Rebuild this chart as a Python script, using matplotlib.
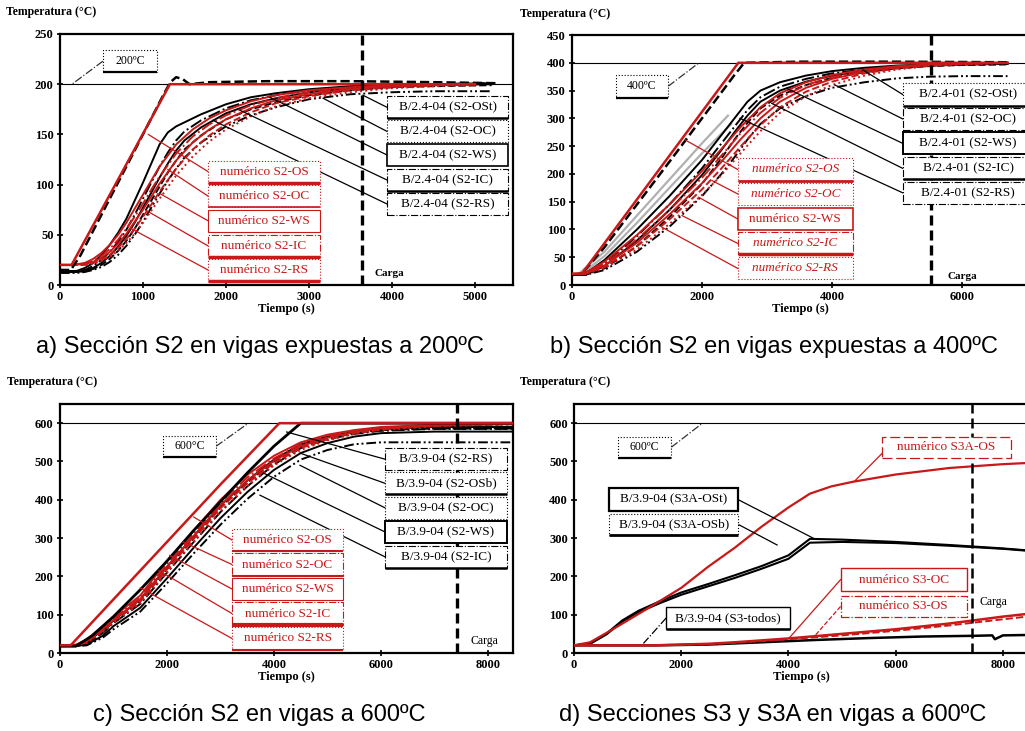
import matplotlib
matplotlib.use("Agg")
import matplotlib.pyplot as plt
from matplotlib.patches import Rectangle

plt.rcParams['font.family'] = ['Liberation Serif', 'DejaVu Serif']

RED = '#c81818'
DDOT = (0, (5, 1.5, 1, 1.5, 1, 1.5))

# ---------------- a) 200 C ----------------
a_target_t = [0, 140, 1325, 5000]
a_target_T = [20, 20, 200, 200]
a_furn_t = [0, 130, 250, 500, 750, 1000, 1250, 1330, 1400, 1480, 1560, 1800, 2500, 3500, 4500, 5250]
a_furn_T = [15, 15, 30, 70, 110, 150, 190, 202, 207, 205, 200, 202, 203, 203, 202, 201]
a_exp_t = [0, 200, 300, 400, 500, 600, 700, 800, 900, 1000, 1100, 1200, 1300, 1400, 1500, 1700, 2000, 2300, 2600, 3000, 3500, 4000, 4500, 5200]
a_exp_T = [
    [14, 14, 17, 22, 30, 40, 52, 66, 84, 102, 121, 140, 152, 158, 162, 170, 180, 187, 191, 195, 198, 199, 200, 201],
    [14, 14, 15, 19, 25, 33, 43, 55, 70, 86, 102, 118, 132, 144, 153, 164, 176, 184, 189, 194, 197, 199, 200, 201],
    [13, 13, 14, 17, 22, 29, 38, 49, 62, 77, 92, 107, 121, 134, 144, 157, 171, 180, 186, 192, 196, 198, 199, 200],
    [13, 13, 14, 16, 20, 26, 34, 44, 56, 70, 84, 98, 112, 124, 135, 149, 165, 175, 182, 189, 194, 197, 198, 199],
    [12, 12, 13, 15, 18, 23, 30, 39, 50, 63, 77, 91, 104, 116, 127, 142, 158, 169, 177, 185, 190, 192, 193, 193],
]
a_num_t = [0, 150, 300, 400, 500, 600, 700, 800, 900, 1000, 1100, 1200, 1400, 1600, 1800, 2000, 2300, 2600, 3000, 3500, 4000, 4500, 5000]
a_num_T = [
    [20, 20, 22, 26, 32, 40, 50, 62, 76, 90, 104, 118, 140, 155, 166, 174, 183, 189, 194, 197, 199, 200, 200],
    [20, 20, 21, 24, 29, 36, 45, 56, 68, 81, 95, 108, 131, 148, 160, 169, 179, 186, 192, 196, 198, 199, 200],
    [20, 20, 21, 23, 27, 33, 41, 51, 63, 75, 88, 101, 124, 142, 155, 165, 176, 184, 190, 195, 198, 199, 200],
    [20, 20, 20, 22, 25, 30, 37, 46, 56, 68, 80, 93, 116, 135, 149, 160, 172, 181, 188, 194, 197, 199, 200],
    [20, 20, 20, 21, 24, 28, 34, 42, 51, 62, 74, 86, 109, 128, 143, 155, 168, 178, 186, 192, 196, 198, 199],
]
a_exp_labels = ['B/2.4-04 (S2-OSt)', 'B/2.4-04 (S2-OC)', 'B/2.4-04 (S2-WS)', 'B/2.4-04 (S2-IC)', 'B/2.4-04 (S2-RS)']
a_num_labels = ['numérico S2-OS', 'numérico S2-OC', 'numérico S2-WS', 'numérico S2-IC', 'numérico S2-RS']

# ---------------- b) 400 C ----------------
b_target_t = [0, 150, 2560, 6700]
b_target_T = [20, 20, 400, 400]
b_furn_t = [0, 150, 500, 1000, 1500, 2000, 2500, 2650, 3500, 5000, 6700]
b_furn_T = [18, 20, 68, 145, 222, 300, 378, 400, 402, 402, 401]
b_grey_t = [[100, 500, 1000, 1500, 2000, 2400], [150, 500, 1000, 1500, 2000, 2450]]
b_grey_T = [[20, 60, 125, 190, 255, 305], [20, 52, 112, 175, 237, 290]]
b_exp_t = [0, 200, 500, 1000, 1500, 2000, 2300, 2500, 2700, 2900, 3200, 3600, 4000, 4500, 5000, 5500, 6000, 6700]
b_exp_T = [
    [18, 20, 45, 100, 160, 225, 270, 300, 330, 350, 365, 377, 385, 391, 395, 397, 398, 398],
    [18, 19, 38, 88, 145, 210, 255, 285, 315, 338, 357, 371, 381, 388, 393, 396, 397, 398],
    [18, 18, 34, 80, 135, 198, 243, 275, 305, 330, 350, 366, 377, 386, 392, 395, 397, 398],
    [18, 18, 30, 70, 122, 182, 228, 262, 292, 318, 341, 360, 373, 383, 390, 394, 396, 397],
    [18, 18, 27, 60, 105, 160, 200, 230, 262, 290, 318, 340, 355, 365, 372, 375, 376, 376],
]
b_num_t = [0, 200, 500, 1000, 1500, 2000, 2300, 2600, 2900, 3200, 3600, 4000, 4500, 5000, 5500, 6000, 6700]
b_num_T = [
    [20, 22, 42, 90, 145, 205, 245, 285, 320, 345, 365, 378, 388, 394, 397, 399, 400],
    [20, 21, 38, 82, 135, 193, 233, 274, 310, 337, 360, 374, 386, 393, 397, 399, 400],
    [20, 20, 35, 76, 127, 183, 222, 263, 300, 330, 355, 371, 384, 392, 396, 398, 400],
    [20, 20, 32, 70, 118, 172, 210, 250, 288, 320, 348, 366, 381, 390, 395, 398, 400],
    [20, 20, 30, 64, 110, 162, 198, 238, 277, 310, 340, 360, 377, 388, 394, 397, 399],
]
b_exp_labels = ['B/2.4-01 (S2-OSt)', 'B/2.4-01 (S2-OC)', 'B/2.4-01 (S2-WS)', 'B/2.4-01 (S2-IC)', 'B/2.4-01 (S2-RS)']

# ---------------- c) 600 C, S2 ----------------
c_target_t = [0, 200, 1000, 2000, 3000, 4100, 8500]
c_target_T = [20, 20, 140, 290, 440, 600, 600]
c_furn_t = [0, 300, 600, 1000, 1500, 2000, 2500, 3000, 3500, 4000, 4500, 8500]
c_furn_T = [18, 18, 45, 95, 165, 240, 320, 395, 470, 540, 600, 600]
c_t = [0, 300, 500, 800, 1000, 1500, 2000, 2500, 3000, 3500, 4000, 4500, 5000, 5500, 6000, 7000, 8500]
c_exp_T = [
    [18, 18, 28, 60, 85, 140, 225, 305, 385, 450, 505, 545, 565, 578, 585, 590, 590],
    [18, 18, 25, 52, 78, 128, 210, 290, 368, 435, 492, 535, 558, 572, 580, 585, 585],
    [18, 18, 22, 45, 70, 118, 195, 275, 352, 420, 478, 522, 548, 565, 574, 578, 578],
    [18, 18, 24, 55, 82, 135, 220, 300, 380, 445, 500, 540, 562, 575, 582, 586, 586],
    [18, 18, 20, 40, 62, 108, 182, 260, 335, 402, 460, 505, 530, 545, 550, 550, 550],
]
c_num_T = [
    [20, 22, 35, 70, 95, 150, 240, 320, 400, 465, 515, 550, 570, 582, 590, 596, 598],
    [20, 21, 33, 66, 90, 145, 232, 312, 392, 458, 508, 545, 566, 580, 588, 595, 598],
    [20, 20, 30, 62, 86, 140, 225, 305, 385, 450, 502, 540, 562, 577, 586, 594, 598],
    [20, 20, 28, 58, 82, 135, 218, 298, 378, 443, 496, 535, 558, 574, 584, 593, 597],
    [20, 20, 26, 55, 78, 130, 210, 290, 370, 436, 490, 530, 555, 572, 582, 592, 597],
]
c_exp_labels = ['B/3.9-04 (S2-RS)', 'B/3.9-04 (S2-OSb)', 'B/3.9-04 (S2-OC)', 'B/3.9-04 (S2-WS)', 'B/3.9-04 (S2-IC)']

# ---------------- d) 600 C, S3 / S3A ----------------
d_s3a_num_t = [0, 300, 700, 1300, 2000, 2500, 3000, 3500, 4000, 4400, 4800, 5200, 6000, 7000, 8000, 8450]
d_s3a_num_T = [20, 28, 60, 110, 170, 225, 275, 330, 380, 416, 435, 447, 466, 483, 493, 496]
d_s3a_exp_t = [0, 300, 600, 900, 1200, 1600, 2000, 2500, 3000, 3500, 4000, 4400, 5000, 6000, 7000, 8000, 8450]
d_s3a_exp_T = [
    [20, 25, 50, 85, 110, 135, 158, 180, 203, 227, 255, 298, 296, 290, 282, 273, 268],
    [20, 24, 48, 82, 106, 130, 152, 174, 196, 220, 246, 288, 290, 287, 280, 272, 267],
]
d_s3_num_t = [0, 1500, 2500, 3000, 3500, 4000, 5000, 6000, 7000, 7500, 8000, 8450]
d_s3_num_T = [
    [20, 20, 24, 28, 33, 38, 50, 62, 77, 86, 95, 102],
    [20, 20, 23, 27, 31, 36, 46, 58, 72, 80, 88, 95],
]
d_s3_exp_t = [0, 1500, 2500, 3500, 4500, 5500, 6500, 7500, 7800, 7850, 8000, 8450]
d_s3_exp_T = [20, 20, 22, 28, 34, 39, 43, 45, 46, 36, 46, 47]

carga = {'a': 3640, 'b': 5523, 'c': 7420, 'd': 7420}

# ---------------- helpers ----------------
EXP_STYLES = ['-', '-.', '-', '--', DDOT]
NUM_STYLES = ['-', '-.', '-', '--', ':']


def frame(ax, xmax, ymax, xt, yt):
    ax.set_xlim(0, xmax)
    ax.set_ylim(0, ymax)
    ax.set_xticks(xt)
    ax.set_yticks(yt)
    for s in ax.spines.values():
        s.set_linewidth(1.6)
    ax.tick_params(direction='inout', length=5, width=1.2, labelsize=9, pad=2)
    for lab in ax.get_xticklabels() + ax.get_yticklabels():
        lab.set_fontweight('bold')
    ax.set_xlabel('Tiempo (s)', fontsize=9, fontweight='bold', labelpad=0)


def tag(ax, box, text, color, ls='-', lw=0.8, under=0, end=None, side='left',
        lead_ls='-', fs=9.5, style='normal'):
    x0, x1, y0, y1 = box
    ax.add_patch(Rectangle((x0, y0), x1 - x0, y1 - y0, fc='white', ec=color,
                           ls=ls, lw=lw, zorder=6))
    ax.text((x0 + x1) / 2, (y0 + y1) / 2, text, color=color, ha='center',
            va='center', fontsize=fs, zorder=7, style=style)
    if under:
        ax.plot([x0, x1], [y0, y0], color=color, lw=under, zorder=7,
                solid_capstyle='butt')
    if end is not None:
        xs = x0 if side == 'left' else x1
        ax.plot([xs, end[0]], [(y0 + y1) / 2, end[1]], color=color, lw=0.9,
                ls=lead_ls, zorder=5)


def ref_tag(ax, box, text, end):
    tag(ax, box, text, 'k', ls=':', lw=0.8, under=1.6, end=end, side='right',
        lead_ls='-.', fs=8.5)
    ax.lines[-1].set_color('#333333')


fig = plt.figure(figsize=(10.25, 7.31), dpi=100)
axa = fig.add_axes([0.0585, 0.6101, 0.4420, 0.3434])
axb = fig.add_axes([0.5580, 0.6101, 0.4449, 0.3420])
axc = fig.add_axes([0.0585, 0.1067, 0.4420, 0.3406])
axd = fig.add_axes([0.5600, 0.1067, 0.4439, 0.3406])

# ---------------- panel a ----------------
ax = axa
frame(ax, 5458, 250, range(0, 5001, 1000), range(0, 251, 50))
ax.axhline(200, color='k', lw=0.8, zorder=1)
for T, st in zip(a_exp_T, EXP_STYLES):
    ax.plot(a_exp_t, T, color='k', lw=1.4, ls=st, zorder=2)
for T, st in zip(a_num_T, NUM_STYLES):
    ax.plot(a_num_t, T, color=RED, lw=1.4, ls=st, zorder=3)
ax.plot(a_furn_t, a_furn_T, color='k', lw=1.8, ls='--', zorder=3)
ax.plot(a_target_t, a_target_T, color=RED, lw=1.8, zorder=4)
ax.axvline(carga['a'], color='k', lw=2.4, ls=(0, (3, 1.5)), zorder=4)
ax.text(carga['a'] + 150, 11, 'Carga', fontsize=8, fontweight='bold', va='center')
ref_tag(ax, (518, 1169, 212, 234), '200ºC', (145, 200))
ax.lines[-1].set_xdata([518, 145])
ax.lines[-1].set_ydata([223, 200])

a_red_y = [113, 88.6, 64, 39, 15]
a_red_end = [(1064, 150), (1300, 115), (1205, 91), (1044, 74), (863, 56)]
a_red_ls = [':', ':', '-', '-.', ':']
a_red_under = [2.5, 1.2, 0, 2.5, 2.5]
for lab, yc, e, ls, u in zip(a_num_labels, a_red_y, a_red_end, a_red_ls, a_red_under):
    tag(ax, (1783, 3133, yc - 11, yc + 11), lab, RED, ls=ls, under=u, end=e)

a_blk_y = [177, 153, 129.5, 104.6, 80.7]
a_blk_end = [(3650, 189), (3170, 186), (2530, 187), (2170, 174), (1843, 164)]
a_blk_ls = ['-.', ':', '-', '-.', '-.']
a_blk_under = [1.8, 0, 0, 1.8, 0]
for lab, yc, e, ls, u in zip(a_exp_labels, a_blk_y, a_blk_end, a_blk_ls, a_blk_under):
    tag(ax, (3940, 5400, yc - 11, yc + 11), lab, 'k', ls=ls,
        lw=1.2 if ls == '-' else 0.8, under=u, end=e)

# ---------------- panel b ----------------
ax = axb
frame(ax, 7015, 450, range(0, 6001, 2000), range(0, 451, 50))
ax.axhline(400, color='k', lw=0.8, zorder=1)
for t, T in zip(b_grey_t, b_grey_T):
    ax.plot(t, T, color='#b0b0b0', lw=1.6, zorder=2)
for T, st in zip(b_exp_T, EXP_STYLES):
    ax.plot(b_exp_t, T, color='k', lw=1.4, ls=st, zorder=2)
for T, st in zip(b_num_T, NUM_STYLES):
    ax.plot(b_num_t, T, color=RED, lw=1.4, ls=st, zorder=3)
ax.plot(b_furn_t, b_furn_T, color='k', lw=1.8, ls='--', zorder=3)
ax.plot(b_target_t, b_target_T, color=RED, lw=1.8, zorder=4)
ax.axvline(carga['b'], color='k', lw=2.4, ls=(0, (3, 1.5)), zorder=4)
ax.text(carga['b'] + 250, 16, 'Carga', fontsize=8, fontweight='bold', va='center')
ref_tag(ax, (677, 1477, 337, 378), '400ºC', (1943, 399))

b_red_y = [208, 164, 119, 75, 30]
b_red_end = [(1744, 261), (2154, 188), (1949, 158), (1692, 125), (1385, 104)]
b_red_ls = [':', ':', '-', '-.', ':']
b_red_under = [2.0, 0, 0, 2.5, 0]
for lab, yc, e, ls, u in zip(a_num_labels, b_red_y, b_red_end, b_red_ls, b_red_under):
    tag(ax, (2549, 4323, yc - 20, yc + 20), lab, RED, ls=ls, under=u, end=e,
        lw=1.2 if ls == '-' else 0.8,
        style='normal' if ls == '-' else 'italic')

b_blk_y = [343, 299, 255, 210, 166]
b_blk_end = [(4477, 387), (4046, 360), (3303, 354), (3072, 327), (2585, 300)]
b_blk_ls = [':', '-.', '-', '-.', '-.']
b_blk_under = [1.8, 0, 0, 1.8, 0]
for lab, yc, e, ls, u in zip(b_exp_labels, b_blk_y, b_blk_end, b_blk_ls, b_blk_under):
    tag(ax, (5088, 7100, yc - 20, yc + 20), lab, 'k', ls=ls,
        lw=1.4 if ls == '-' else 0.8, under=u, end=e)

# ---------------- panel c ----------------
ax = axc
frame(ax, 8467, 650, range(0, 8001, 2000), range(0, 601, 100))
ax.axhline(600, color='k', lw=0.8, zorder=1)
for T, st in zip(c_exp_T, EXP_STYLES):
    ax.plot(c_t, T, color='k', lw=1.4, ls=st, zorder=2)
for T, st in zip(c_num_T, NUM_STYLES):
    ax.plot(c_t, T, color=RED, lw=1.4, ls=st, zorder=3)
ax.plot(c_furn_t, c_furn_T, color='k', lw=2.0, zorder=3)
ax.plot(c_target_t, c_target_T, color=RED, lw=1.8, zorder=4)
ax.axvline(carga['c'], color='k', lw=2.4, ls=(0, (3, 1.5)), zorder=4)
ax.text(carga['c'] + 250, 31, 'Carga', fontsize=8.5, va='center')
ref_tag(ax, (1920, 2916, 512, 567), '600°C', (3490, 597))

c_red_y = [295, 231, 167, 103, 38]
c_red_end = [(2500, 355), (2300, 290), (2050, 255), (1850, 215), (1500, 170)]
c_red_ls = [':', '-.', '-', '-.', ':']
c_red_under = [1.5, 1.5, 0, 3.0, 1.5]
for lab, yc, e, ls, u in zip(a_num_labels, c_red_y, c_red_end, c_red_ls, c_red_under):
    tag(ax, (3215, 5290, yc - 29, yc + 29), lab, RED, ls=ls, under=u, end=e)

c_blk_y = [506, 443, 379, 316, 251]
c_blk_end = [(4237, 577), (4486, 522), (4486, 490), (3800, 470), (3738, 412)]
c_blk_ls = ['-.', ':', ':', '-', '-.']
c_blk_under = [0, 1.8, 0, 0, 1.8]
for lab, yc, e, ls, u in zip(c_exp_labels, c_blk_y, c_blk_end, c_blk_ls, c_blk_under):
    tag(ax, (6075, 8355, yc - 29, yc + 29), lab, 'k', ls=ls,
        lw=1.4 if ls == '-' else 0.8, under=u, end=e)

# ---------------- panel d ----------------
ax = axd
frame(ax, 8486, 650, range(0, 8001, 2000), range(0, 601, 100))
ax.axhline(600, color='k', lw=0.8, zorder=1)
for T in d_s3a_exp_T:
    ax.plot(d_s3a_exp_t, T, color='k', lw=1.5, zorder=2)
ax.plot(d_s3_exp_t, d_s3_exp_T, color='k', lw=1.8, zorder=2)
ax.plot(d_s3a_num_t, d_s3a_num_T, color=RED, lw=1.6, zorder=3)
ax.plot(d_s3_num_t, d_s3_num_T[0], color=RED, lw=1.8, zorder=3)
ax.plot(d_s3_num_t, d_s3_num_T[1], color=RED, lw=1.4, ls='--', zorder=3)
ax.axvline(carga['d'], color='k', lw=1.8, ls=(0, (4, 2)), zorder=4)
ax.text(carga['d'] + 150, 133, 'Carga', fontsize=8.5, va='center')
ref_tag(ax, (816, 1813, 510, 564), '600ºC', (2387, 599))

tag(ax, (5738, 8150, 510, 564), 'numérico S3A-OS', RED, ls=(0, (8, 3)), lw=0.9,
    end=(5221, 447))
ax.lines[-1].set_ydata([520, 447])
tag(ax, (660, 3060, 371, 430), 'B/3.9-04 (S3A-OSt)', 'k', lw=1.6, under=0,
    end=(4473, 299), side='right')
tag(ax, (660, 3060, 308, 364), 'B/3.9-04 (S3A-OSb)', 'k', ls=':', under=2.0,
    end=(3788, 282), side='right')
tag(ax, (1720, 4024, 62, 121), 'B/3.9-04 (S3-todos)', 'k', ls='-', lw=1.0,
    under=1.8, end=(1295, 25))
ax.lines[-1].set_linestyle('-.')
tag(ax, (4972, 7327, 162, 221), 'numérico S3-OC', RED, lw=1.0, end=(4006, 38))
tag(ax, (4972, 7327, 93, 150), 'numérico S3-OS', RED, ls='-.', lw=0.9,
    end=(4505, 47), lead_ls='--')

# ---------------- figure texts ----------------
for x, y in [(6, 12), (520, 14), (7, 382), (520, 382)]:
    fig.text(x / 1025, 1 - y / 731, 'Temperatura (°C)', fontsize=8.5,
             fontweight='bold', va='center', ha='left')

caps = ['a) Sección S2 en vigas expuestas a 200ºC',
        'b) Sección S2 en vigas expuestas a 400ºC',
        'c) Sección S2 en vigas a 600ºC',
        'd) Secciones S3 y S3A en vigas a 600ºC']
for cap, (x, y) in zip(caps, [(260, 347), (774, 347), (259, 715), (773, 715)]):
    fig.text(x / 1025, 1 - y / 731, cap, fontsize=17, family='Liberation Sans',
             ha='center', va='center')

fig.savefig('out.png', dpi=100)
